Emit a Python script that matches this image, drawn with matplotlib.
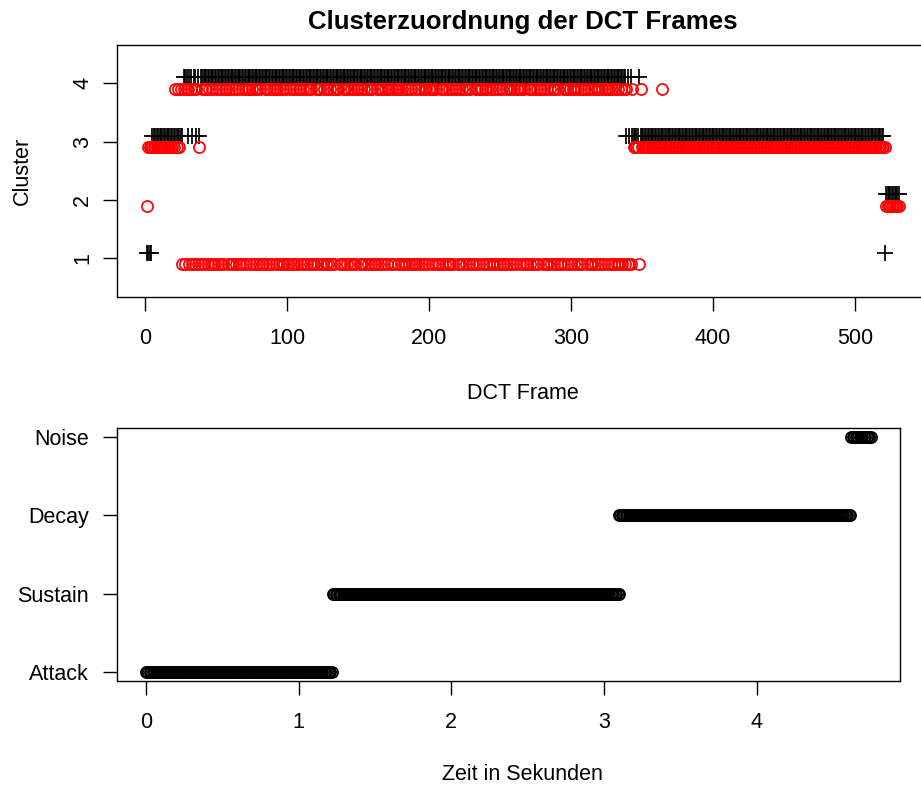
import numpy as np
import matplotlib
matplotlib.use("Agg")
import matplotlib.pyplot as plt

plt.rcParams['font.family'] = ['Liberation Sans', 'DejaVu Sans']

# ---- cluster assignment per DCT frame (frames 1..N), two clusterings ----
# black "+" : first clustering, built from runs and mixed stretches
black_parts = [
    "1" * 4,
    "3" * 21,
    "3444344344343",
    "4" * 300,
    "3434333334",
    "3" * 172,
    "1",
    "2" * 10,
]

# red "o" : second clustering
red_parts = [
    "2",
    "3" * 18,
    "34343",
    # frames 25..340, alternating between clusters 4 and 1
    "4141441414" "1413141441" "4141141414" "1441414141" "4114141441"
    "4141414114" "1414144141" "4141411414" "1414414141" "4141141441"
    "1414141414" "4411414141" "4141441414" "1414141141" "4141414414"
    "1441414141" "4141141414" "1414144141" "4114141414" "1414414141"
    "4141411414" "1441414141" "4141414114" "1414141441" "4141141414"
    "1414414141" "4141414114" "1441414141" "4141441414" "1414141414"
    "4141414141" "414141",
    "114333314",
    "3" * 14,
    "4",
    "3" * 157,
    "2" * 10,
]

black_clusters = np.array([int(c) for c in "".join(black_parts)])
red_clusters = np.array([int(c) for c in "".join(red_parts)])
black_frames = np.arange(1, len(black_clusters) + 1)
red_frames = np.arange(1, len(red_clusters) + 1)

# ---- segmentation over time ----
segment_names = ["Attack", "Sustain", "Decay", "Noise"]
segment_start = [0.0, 1.23, 3.10, 4.62]
segment_end = [1.22, 3.10, 4.61, 4.746]
frame_hop = 0.00895  # seconds between analysis frames

# ---- layout (pixel geometry of a 921 x 789 canvas) ----
W, H = 921, 789
fig = plt.figure(figsize=(W / 100, H / 100), dpi=100)

def px_axes(left, top, right, bottom):
    return fig.add_axes([left / W, 1 - bottom / H, (right - left) / W, (bottom - top) / H])

FS = 15.5
LW = 1.0
MLW = 1.25

ax1 = px_axes(116.7, 44.7, 929, 297)
ax1.plot(black_frames, black_clusters + 0.1, linestyle='none', marker='+',
         color='black', markersize=11.5, markeredgewidth=MLW)
ax1.plot(red_frames, red_clusters - 0.1, linestyle='none', marker='o',
         markerfacecolor='none', markeredgecolor='red', markersize=8, markeredgewidth=MLW)
n = max(len(black_frames), len(red_frames))
ax1.set_xlim(1 - 0.04 * (n - 1), n + 0.04 * (n - 1))
ax1.set_ylim(0.5 - 0.16, 4.5 + 0.16)
ax1.set_xticks([0, 100, 200, 300, 400, 500])
ax1.set_yticks([1, 2, 3, 4])
ax1.tick_params(axis='y', labelrotation=90)
for lab in ax1.get_yticklabels():
    lab.set_va('center')
ax1.set_title("Clusterzuordnung der DCT Frames", fontsize=FS * 1.2, fontweight='bold',
              y=1.09, va='center', pad=0)
ax1.set_xlabel("DCT Frame", fontsize=FS)
ax1.xaxis.set_label_coords(0.5, -0.3805)
ax1.xaxis.label.set_va('center')
ax1.set_ylabel("Cluster", fontsize=FS)
ax1.yaxis.set_label_coords((22 - 116.7) / (929 - 116.7), 0.5)
ax1.yaxis.label.set_va('center')

ax2 = px_axes(116.7, 428, 900, 681)
for k, (name, t0, t1) in enumerate(zip(segment_names, segment_start, segment_end)):
    f0 = int(round(t0 / frame_hop))
    f1 = int(round(t1 / frame_hop))
    t = np.arange(f0, f1 + 1) * frame_hop
    ax2.plot(t, np.full(t.shape, k + 1), linestyle='none', marker='o',
             markerfacecolor='none', markeredgecolor='black', markersize=8,
             markeredgewidth=MLW)
tmax = segment_end[-1]
ax2.set_xlim(-0.04 * tmax, tmax * 1.04)
ax2.set_ylim(1 - 0.12, 4 + 0.12)
ax2.set_xticks([0, 1, 2, 3, 4])
ax2.set_yticks([1, 2, 3, 4])
ax2.set_yticklabels(segment_names)
ax2.set_xlabel("Zeit in Sekunden", fontsize=FS)
ax2.xaxis.set_label_coords((522 - 116.7) / (900 - 116.7), -0.3715)
ax2.xaxis.label.set_va('center')

for ax in (ax1, ax2):
    for sp in ax.spines.values():
        sp.set_linewidth(LW)
        sp.set_color('black')
    ax.tick_params(axis='both', which='major', direction='out', length=10,
                   width=LW, labelsize=FS, color='black', top=False, right=False)
    ax.tick_params(axis='x', pad=12)
    ax.tick_params(axis='y', pad=7 if ax is ax1 else 10)

fig.savefig("out.png", dpi=100)
